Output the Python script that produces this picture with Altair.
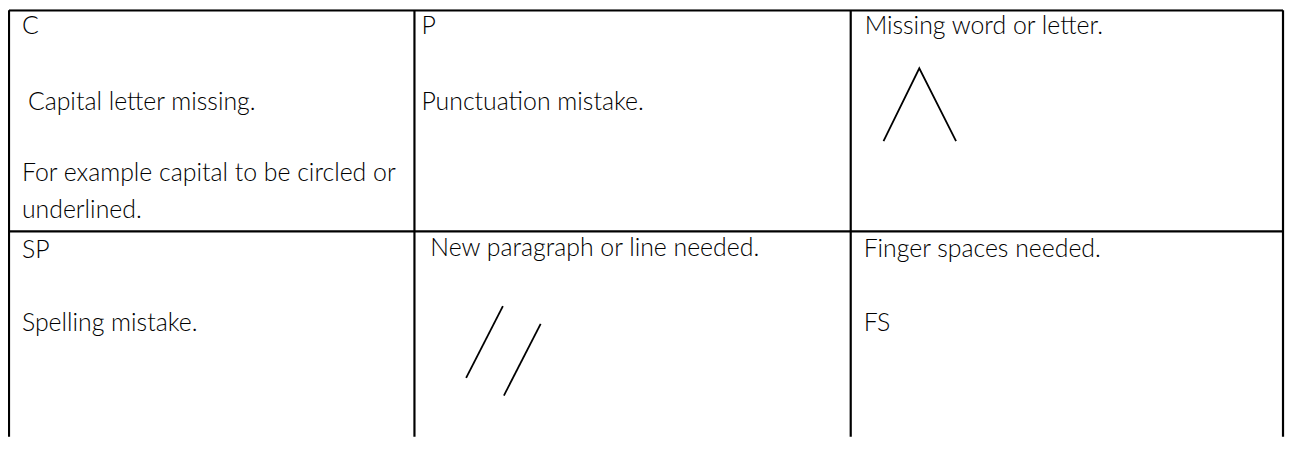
import altair as alt
import pandas as pd

# table structure (reference pixel units)
col_edges = [4, 417, 856, 1291]
row_edges = [4, 229]
table_bottom = 470

# cell texts
texts = ["C", " Capital letter missing.", "For example capital to be circled or",
         "underlined.", "P", "Punctuation mistake.", "Missing word or letter.",
         "SP", "Spelling mistake.", "New paragraph or line needed.",
         "Finger spaces needed.", "FS"]
text_x = [22, 28, 22, 22, 424, 424, 870, 22, 22, 433, 869, 869]
text_y = [28, 105, 178, 215, 28, 105, 28, 256, 330, 254, 255, 330]

# proof-reading symbols
caret_x = [889, 925, 962]
caret_y = [137, 63, 137]
slash_x1 = [469, 507]
slash_y1 = [378, 396]
slash_x2 = [506, 544]
slash_y2 = [305, 323]

W, H = 1285, 430
VIS = 9  # first fully visible pixel inside the page margin
# y: reference top border (4) lands on the first visible pixel row, bottom (453) stays put
fy = (453 - VIS) / (453 - 4)
y0 = 4 + (8 - VIS) / fy
y1 = 4 + (8 + H - VIS) / fy
xs = alt.Scale(domain=[8, 8 + W], nice=False, zero=False)
ys = alt.Scale(domain=[y0, y1], nice=False, zero=False, reverse=True)

grid_rows = []
for c in col_edges:
    grid_rows.append({"x": max(c, VIS), "y": row_edges[0],
                      "x2": max(c, VIS), "y2": table_bottom})
for r in row_edges:
    grid_rows.append({"x": max(col_edges[0], VIS), "y": r,
                      "x2": col_edges[-1], "y2": r})
grid = pd.DataFrame(grid_rows)

grid_layer = alt.Chart(grid).mark_rule(color="black", strokeWidth=2.2, clip=True).encode(
    x=alt.X("x:Q", scale=xs, axis=None),
    y=alt.Y("y:Q", scale=ys, axis=None),
    x2="x2:Q", y2="y2:Q")

tdf = pd.DataFrame({"t": texts, "x": text_x, "y": text_y})
text_layer = alt.Chart(tdf).mark_text(
    align="left", baseline="alphabetic", font="Lato", fontSize=25,
    fontWeight=300, color="black").encode(
    x=alt.X("x:Q", scale=xs, axis=None),
    y=alt.Y("y:Q", scale=ys, axis=None),
    text="t:N")

cdf = pd.DataFrame({"x": caret_x, "y": caret_y, "o": list(range(len(caret_x)))})
caret_layer = alt.Chart(cdf).mark_line(color="black", strokeWidth=1.8).encode(
    x=alt.X("x:Q", scale=xs, axis=None),
    y=alt.Y("y:Q", scale=ys, axis=None),
    order="o:Q")

sdf = pd.DataFrame({"x": slash_x1, "y": slash_y1, "x2": slash_x2, "y2": slash_y2})
slash_layer = alt.Chart(sdf).mark_rule(color="black", strokeWidth=1.8).encode(
    x=alt.X("x:Q", scale=xs, axis=None),
    y=alt.Y("y:Q", scale=ys, axis=None),
    x2="x2:Q", y2="y2:Q")

chart = alt.layer(grid_layer, text_layer, caret_layer, slash_layer).properties(
    width=W, height=H, autosize="none", padding=0,
    background="white"
).configure_view(stroke=None)

chart.save("out.html", embed_options={"renderer": "svg", "actions": False})
